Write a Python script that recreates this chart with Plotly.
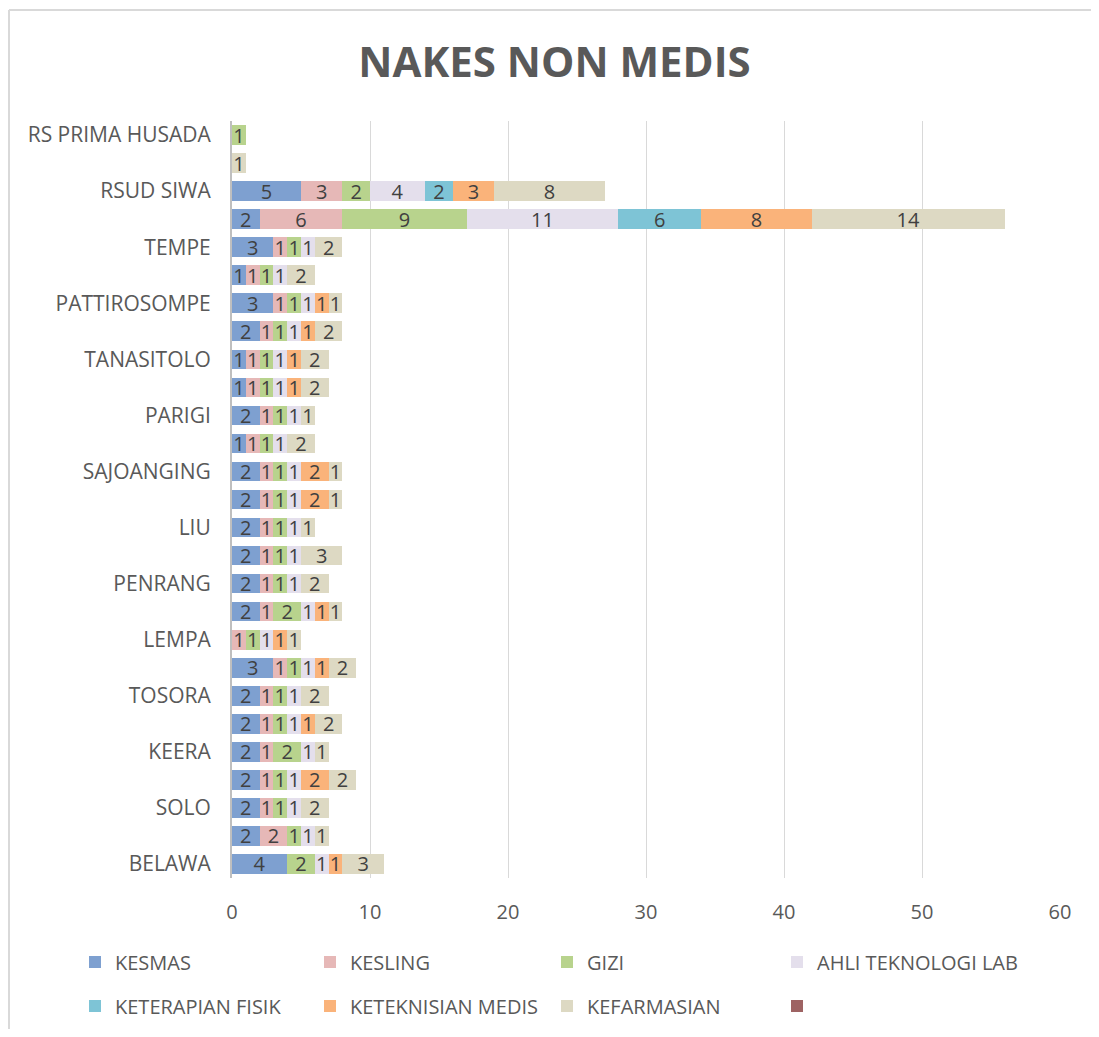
import plotly.graph_objects as go

# categories, bottom to top (only every other name is printed on the axis)
categories = [
    "BELAWA", "MENGE", "SOLO", "UJUNG", "KEERA", "PITUMPANUA", "TOSORA",
    "GILIRENG", "LEMPA", "MAMINASAE", "PENRANG", "BOLA", "LIU", "SABBANGPARU",
    "SAJOANGING", "MAJAULENG", "PARIGI", "PAKKANNA", "TANASITOLO", "WEWANGRIU",
    "PATTIROSOMPE", "SALEWANGENG", "TEMPE", "RSUD LAMADDUKELLENG", "RSUD SIWA",
    "RS MASYARAKAT", "RS PRIMA HUSADA",
]
shown_labels = categories[::2]

kesmas   = [4, 2, 2, 2, 2, 2, 2, 3, 0, 2, 2, 2, 2, 2, 2, 1, 2, 1, 1, 2, 3, 1, 3, 2, 5, 0, 0]
kesling  = [0, 2, 1, 1, 1, 1, 1, 1, 1, 1, 1, 1, 1, 1, 1, 1, 1, 1, 1, 1, 1, 1, 1, 6, 3, 0, 0]
gizi     = [2, 1, 1, 1, 2, 1, 1, 1, 1, 2, 1, 1, 1, 1, 1, 1, 1, 1, 1, 1, 1, 1, 1, 9, 2, 0, 1]
ahli_lab = [1, 1, 1, 1, 1, 1, 1, 1, 1, 1, 1, 1, 1, 1, 1, 1, 1, 1, 1, 1, 1, 1, 1, 11, 4, 0, 0]
fisik    = [0, 0, 0, 0, 0, 0, 0, 0, 0, 0, 0, 0, 0, 0, 0, 0, 0, 0, 0, 0, 0, 0, 0, 6, 2, 0, 0]
teknisi  = [1, 0, 0, 2, 0, 1, 0, 1, 1, 1, 0, 0, 0, 2, 2, 0, 0, 1, 1, 1, 1, 0, 0, 8, 3, 0, 0]
farmasi  = [3, 1, 2, 2, 1, 2, 2, 2, 1, 1, 2, 3, 1, 1, 1, 2, 1, 2, 2, 2, 1, 2, 2, 14, 8, 1, 0]
kosong   = [0] * 27

series = [
    ("KESMAS", kesmas, "#7EA0D0"),
    ("KESLING", kesling, "#E6B8B7"),
    ("GIZI", gizi, "#B8D38D"),
    ("AHLI TEKNOLOGI LAB", ahli_lab, "#E4DFEC"),
    ("KETERAPIAN FISIK", fisik, "#7EC4D6"),
    ("KETEKNISIAN MEDIS", teknisi, "#FAB37A"),
    ("KEFARMASIAN", farmasi, "#DDD9C3"),
    (" ", kosong, "#9E6363"),
]

FONT = "Open Sans"
GREY = "#595959"
OFF = 8  # page body margin around the plot div
FIG_W, FIG_H = 1099 - 2 * OFF, 1037 - 2 * OFF

# legend slots on the page: text start x, row centre y (pixels)
legend_x = [115, 350, 587, 817, 115, 350, 587, 817]
legend_y = [962, 962, 962, 962, 1006, 1006, 1006, 1006]

fig = go.Figure()
for i, (name, vals, color) in enumerate(series):
    fig.add_trace(go.Bar(
        y=categories, x=vals, name=name, orientation="h",
        marker=dict(color=color, line=dict(width=0)),
        text=[str(v) if v else "" for v in vals],
        textposition="inside", insidetextanchor="middle", textangle=0,
        constraintext="none",
        textfont=dict(family=FONT, size=20, color="#404040"),
        legend="legend" if i == 0 else f"legend{i + 1}",
    ))

# plot area in figure pixels
L, R, T, B = 232 - OFF, 1060 - OFF, 121 - OFF, 878 - OFF
W, H = R - L, B - T

def px_x(x):
    return (x - L) / W

def px_y(y):
    return (B - y) / H

legends = {}
for i in range(len(series)):
    key = "legend" if i == 0 else f"legend{i + 1}"
    legends[key] = dict(
        xref="container", yref="container",
        x=(legend_x[i] - OFF - 40) / FIG_W, y=1 - (legend_y[i] - OFF) / FIG_H,
        xanchor="left", yanchor="middle",
        font=dict(family=FONT, size=20, color=GREY),
        itemwidth=30, bgcolor="rgba(0,0,0,0)",
    )

# chart frame: only its top and left edges fall inside the picture
frame = dict(color="#D9D9D9", width=2)
shapes = [
    dict(type="line", xref="paper", yref="paper", layer="below", line=frame,
         x0=px_x(1), x1=px_x(FIG_W + 40), y0=px_y(2), y1=px_y(2)),
    dict(type="line", xref="paper", yref="paper", layer="below", line=frame,
         x0=px_x(1), x1=px_x(1), y0=px_y(2), y1=px_y(FIG_H + 40)),
]

fig.update_layout(
    width=FIG_W, height=FIG_H, showlegend=True,
    margin=dict(l=L, r=FIG_W - R, t=T, b=FIG_H - B, autoexpand=False),
    barmode="stack", bargap=0.3,
    plot_bgcolor="white", paper_bgcolor="white",
    title=dict(text="<b>NAKES NON MEDIS</b>", x=(554.5 - OFF) / FIG_W,
               xanchor="center", y=1 - (62 - OFF) / FIG_H, yanchor="middle",
               font=dict(family=FONT, size=42, color=GREY)),
    xaxis=dict(range=[0, 60], dtick=10, showgrid=True, gridcolor="#D9D9D9",
               gridwidth=1, zeroline=False, showline=False, ticks="",
               automargin=False, ticklabelstandoff=20,
               tickfont=dict(family=FONT, size=20, color=GREY)),
    yaxis=dict(categoryorder="array", categoryarray=categories,
               tickvals=shown_labels, ticktext=shown_labels,
               showline=True, linecolor="#BFBFBF", linewidth=2,
               showgrid=False, ticks="", ticklabelstandoff=15,
               automargin=False,
               tickfont=dict(family=FONT, size=21, color=GREY)),
    shapes=shapes,
    **legends,
)

fig.write_html("out.html")
